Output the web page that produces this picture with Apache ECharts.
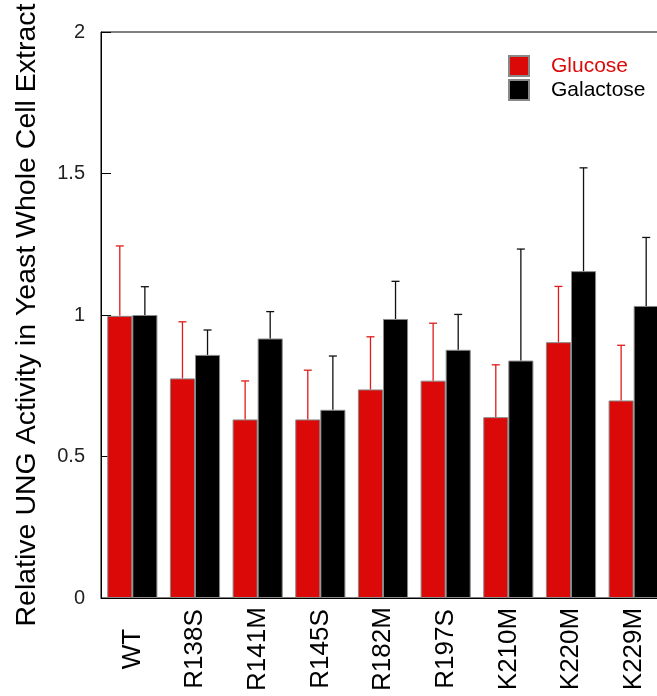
<!DOCTYPE html>
<html>
<head>
<meta charset="utf-8">
<script src="https://cdn.jsdelivr.net/npm/echarts@6/dist/echarts.min.js"></script>
<style>
  html, body { margin: 0; padding: 0; background: #fff; overflow: hidden; }
  /* the figure is cropped on the right, so the canvas runs past the window edge */
  #chart { width: 672px; height: 696px; }
</style>
</head>
<body>
<div id="chart"></div>
<script>
// strains (x categories)
const strains = ["WT", "R138S", "R141M", "R145S", "R182M", "R197S", "K210M", "K220M", "K229M"];
// relative UNG activity, glucose
const glucose = [0.997, 0.776, 0.631, 0.631, 0.737, 0.768, 0.639, 0.904, 0.698];
const glucoseErr = [0.247, 0.20, 0.136, 0.174, 0.186, 0.203, 0.185, 0.197, 0.195];
// relative UNG activity, galactose
const galactose = [1.0, 0.859, 0.917, 0.665, 0.986, 0.877, 0.839, 1.155, 1.032];
const galactoseErr = [0.10, 0.088, 0.095, 0.19, 0.133, 0.125, 0.394, 0.365, 0.242];
const yTicks = [0, 0.5, 1, 1.5, 2];

const RED = "#dc0909";
const FONT = "Liberation Sans, Arial, sans-serif";

// upward-only error bar, shifted onto the left (-1) or right (+1) bar of the pair
function errorBar(side, color) {
    return function (params, api) {
        const idx = api.value(0);
        const mean = api.value(1);
        const top = mean + api.value(2);
        const catW = api.size([1, 0])[0];
        const p0 = api.coord([idx, mean]);
        const p1 = api.coord([idx, top]);
        const cx = p0[0] + side * 0.2 * catW;
        const style = { stroke: color, lineWidth: 1.3 };
        return {
            type: "group",
            children: [
                { type: "line", shape: { x1: cx, y1: p0[1], x2: cx, y2: p1[1] }, style },
                { type: "line", shape: { x1: cx - 4, y1: p1[1], x2: cx + 4, y2: p1[1] }, style },
            ],
        };
    };
}

const chart = echarts.init(document.getElementById("chart"));
chart.setOption({
    animation: false,
    textStyle: { fontFamily: FONT },
    grid: { left: 101, right: 7, top: 32, bottom: 98, show: true, borderColor: "#000", borderWidth: 1 },
    legend: {
        orient: "vertical",
        left: 503,
        top: 50,
        itemWidth: 20,
        itemHeight: 20,
        itemGap: 2,
        icon: "rect",
        textStyle: { fontSize: 21, lineHeight: 20, fontFamily: FONT, padding: [0, 0, 0, 17] },
        data: [
            { name: "Glucose", textStyle: { color: RED } },
            { name: "Galactose", textStyle: { color: "#000" } },
        ],
    },
    xAxis: {
        type: "category",
        data: strains,
        axisLine: { lineStyle: { color: "#000", width: 1 } },
        axisTick: { inside: true, length: 7, lineStyle: { color: "#000" } },
        axisLabel: {
            rotate: 90,
            align: "center",
            verticalAlign: "middle",
            margin: 51,
            fontSize: 26,
            color: "#000",
            fontFamily: FONT,
        },
    },
    yAxis: {
        type: "value",
        min: yTicks[0],
        max: yTicks[yTicks.length - 1],
        interval: 0.5,
        name: "Relative UNG Activity in Yeast Whole Cell Extract",
        nameLocation: "middle",
        nameGap: 59,
        nameTextStyle: { fontSize: 28.5, color: "#000", fontFamily: FONT },
        axisLine: { show: true, lineStyle: { color: "#000", width: 1 } },
        axisTick: { show: true, inside: true, length: 10, lineStyle: { color: "#000" } },
        axisLabel: { fontSize: 20, color: "#222", margin: 16, fontFamily: FONT },
        splitLine: { show: false },
    },
    series: [
        {
            name: "Glucose",
            type: "bar",
            data: glucose,
            barGap: "0%",
            barCategoryGap: "20%",
            itemStyle: { color: RED, borderColor: "#888", borderWidth: 1 },
        },
        {
            name: "Galactose",
            type: "bar",
            data: galactose,
            barGap: "0%",
            barCategoryGap: "20%",
            itemStyle: { color: "#000", borderColor: "#888", borderWidth: 1 },
        },
        {
            name: "Glucose SD",
            type: "custom",
            renderItem: errorBar(-1, "#e01a1a"),
            data: glucose.map((v, i) => [i, v, glucoseErr[i]]),
            encode: { x: 0, y: 1 },
            z: 3,
        },
        {
            name: "Galactose SD",
            type: "custom",
            renderItem: errorBar(1, "#111"),
            data: galactose.map((v, i) => [i, v, galactoseErr[i]]),
            encode: { x: 0, y: 1 },
            z: 3,
        },
    ],
});
</script>
</body>
</html>
